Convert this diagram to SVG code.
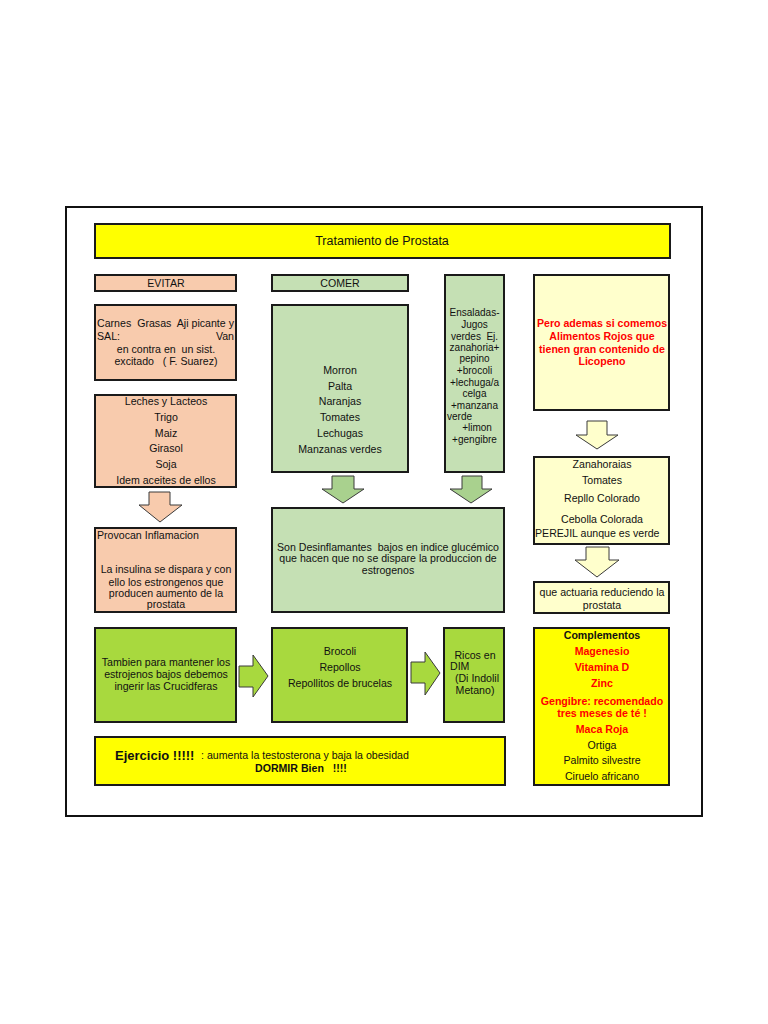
<svg xmlns="http://www.w3.org/2000/svg" width="768" height="1024" viewBox="0 0 768 1024" xml:space="preserve">
<style>
text{font-family:"Liberation Sans",Arial,sans-serif;font-size:10.6px;fill:#111;white-space:pre}
.c{text-anchor:middle}
.s{font-size:10px}
.b{stroke:#1a1a1a;stroke-width:2}
.peach{fill:#f8cbad}
.lg{fill:#c5e0b4}
.yel{fill:#ffff00}
.ly{fill:#ffffcc}
.lime{fill:#a8d93e}
.red{fill:#ff0000;font-weight:bold}
.bold{font-weight:bold}
.arr{stroke:#3a3a3a;stroke-width:1}
</style>
<rect x="0" y="0" width="768" height="1024" fill="#ffffff"/>
<rect x="66" y="207" width="636" height="609" fill="#ffffff" stroke="#111" stroke-width="2"/>

<g id="title"><rect class="b yel" x="95" y="224" width="575" height="34"/><text class="c" x="382" y="245" style="font-size:12.5px">Tratamiento de Prostata</text></g>

<g id="evitar"><rect class="b peach" x="95" y="275" width="141" height="16"/><text class="c" x="166" y="287">EVITAR</text></g>
<g id="comer"><rect class="b lg" x="272" y="275" width="136" height="16"/><text class="c" x="340" y="287">COMER</text></g>

<g id="carnes"><rect class="b peach" x="95" y="305" width="141" height="75"/>
<text x="97" y="327" textLength="137" lengthAdjust="spacing">Carnes  Grasas  Aji picante y</text>
<text x="97" y="340">SAL:</text><text x="234" y="340" text-anchor="end">Van</text>
<text class="c" x="166" y="353">en contra en  un sist.</text>
<text class="c" x="166" y="365">excitado   ( F. Suarez)</text></g>

<g id="leches"><rect class="b peach" x="95" y="395" width="141" height="92"/>
<text class="c" x="166" y="405">Leches y Lacteos</text>
<text class="c" x="166" y="421">Trigo</text>
<text class="c" x="166" y="437">Maiz</text>
<text class="c" x="166" y="452">Girasol</text>
<text class="c" x="166" y="468">Soja</text>
<text class="c" x="166" y="484">Idem aceites de ellos</text></g>

<g id="morron"><rect class="b lg" x="272" y="305" width="136" height="167"/>
<text class="c" x="340" y="374">Morron</text>
<text class="c" x="340" y="390">Palta</text>
<text class="c" x="340" y="405">Naranjas</text>
<text class="c" x="340" y="421">Tomates</text>
<text class="c" x="340" y="437">Lechugas</text>
<text class="c" x="340" y="453">Manzanas verdes</text></g>

<g id="ensaladas"><rect class="b lg" x="445" y="275" width="59" height="197"/>
<text class="c s" x="474.5" y="316">Ensaladas-</text>
<text class="c s" x="474.5" y="328">Jugos</text>
<text class="c s" x="474.5" y="340">verdes  Ej.</text>
<text class="c s" x="474.5" y="351">zanahoria+</text>
<text class="c s" x="474.5" y="362">pepino</text>
<text class="c s" x="474.5" y="374">+brocoli</text>
<text class="c s" x="474.5" y="386">+lechuga/a</text>
<text class="c s" x="474.5" y="397">celga</text>
<text class="c s" x="474.5" y="409">+manzana</text>
<text class="s" x="447" y="420">verde</text>
<text class="c s" x="477" y="431">+limon</text>
<text class="c s" x="474.5" y="443">+gengibre</text></g>

<g id="pero"><rect class="b ly" x="534" y="275" width="135" height="135"/>
<text class="c red" x="602" y="327">Pero ademas si comemos</text>
<text class="c red" x="602" y="340">Alimentos Rojos que</text>
<text class="c red" x="602" y="353">tienen gran contenido de</text>
<text class="c red" x="602" y="365">Licopeno</text></g>

<g id="zanahoraias"><rect class="b ly" x="534" y="457" width="135" height="87"/>
<text class="c" x="602" y="468">Zanahoraias</text>
<text class="c" x="602" y="484">Tomates</text>
<text class="c" x="602" y="502">Repllo Colorado</text>
<text class="c" x="602" y="523">Cebolla Colorada</text>
<text x="535" y="537">PEREJIL aunque es verde</text></g>

<g id="actuaria"><rect class="b ly" x="534" y="582" width="135" height="31"/>
<text class="c" x="602" y="596">que actuaria reduciendo la</text>
<text class="c" x="602" y="609">prostata</text></g>

<g id="provocan"><rect class="b peach" x="95" y="528" width="141" height="84"/>
<text x="97" y="539">Provocan Inflamacion</text>
<text class="c" x="166" y="573">La insulina se dispara y con</text>
<text class="c" x="166" y="586">ello los estrongenos que</text>
<text class="c" x="166" y="597">producen aumento de la</text>
<text class="c" x="166" y="608">prostata</text></g>

<g id="desinflamantes"><rect class="b lg" x="272" y="508" width="232" height="104"/>
<text class="c" x="388" y="551">Son Desinflamantes  bajos en indice glucémico</text>
<text class="c" x="388" y="562">que hacen que no se dispare la produccion de</text>
<text class="c" x="388" y="574">estrogenos</text></g>

<g id="tambien"><rect class="b lime" x="95" y="628" width="141" height="94"/>
<text class="c" x="166" y="666">Tambien para mantener los</text>
<text class="c" x="166" y="678">estrojenos bajos debemos</text>
<text class="c" x="166" y="690">ingerir las Crucidferas</text></g>

<g id="brocoli"><rect class="b lime" x="272" y="628" width="135" height="94"/>
<text class="c" x="340" y="655">Brocoli</text>
<text class="c" x="340" y="671">Repollos</text>
<text class="c" x="340" y="687">Repollitos de brucelas</text></g>

<g id="ricos"><rect class="b lime" x="444" y="628" width="60" height="94"/>
<text class="c" x="475" y="659">Ricos en</text>
<text x="450" y="670">DIM</text>
<text class="c" x="477" y="682">(Di Indolil</text>
<text class="c" x="475" y="694">Metano)</text></g>

<g id="ejercicio"><rect class="b yel" x="95" y="737" width="410" height="48"/>
<text class="bold" x="115" y="760" style="font-size:13px">Ejercicio !!!!!</text>
<text x="201" y="759">: aumenta la testosterona y baja la obesidad</text>
<text class="bold" x="255" y="772">DORMIR Bien   !!!!</text></g>

<g id="complementos"><rect class="b yel" x="534" y="628" width="135" height="157"/>
<text class="c bold" x="602" y="639">Complementos</text>
<text class="c red" x="602" y="655">Magenesio</text>
<text class="c red" x="602" y="671">Vitamina D</text>
<text class="c red" x="602" y="687">Zinc</text>
<text class="c red" x="602" y="705">Gengibre: recomendado</text>
<text class="c red" x="602" y="717">tres meses de té !</text>
<text class="c red" x="602" y="733">Maca Roja</text>
<text class="c" x="602" y="749">Ortiga</text>
<text class="c" x="602" y="764">Palmito silvestre</text>
<text class="c" x="602" y="780">Ciruelo africano</text></g>

<g id="connectors">
<polygon class="arr" fill="#f8cbad" points="149,492 170,492 170,505 182,505 160,522 139,505 149,505"/>
<polygon class="arr" fill="#a9d18e" points="332,476 354,476 354,489 364,489 343,503 322,489 332,489"/>
<polygon class="arr" fill="#a9d18e" points="462,476 482,476 482,489 492,489 471,503 450,489 462,489"/>
<polygon class="arr" fill="#ffffcc" points="587,421 607,421 607,435 618,435 597,449 576,435 587,435"/>
<polygon class="arr" fill="#ffffcc" points="586,547 609,547 609,560 619,560 597,577 575,560 586,560"/>
<polygon class="arr" fill="#a8d93e" points="239,666 253,666 253,655 268,676 253,697 253,687 239,687"/>
<polygon class="arr" fill="#a8d93e" points="411,662 425,662 425,652 440,673 425,695 425,683 411,683"/>
</g>
</svg>
